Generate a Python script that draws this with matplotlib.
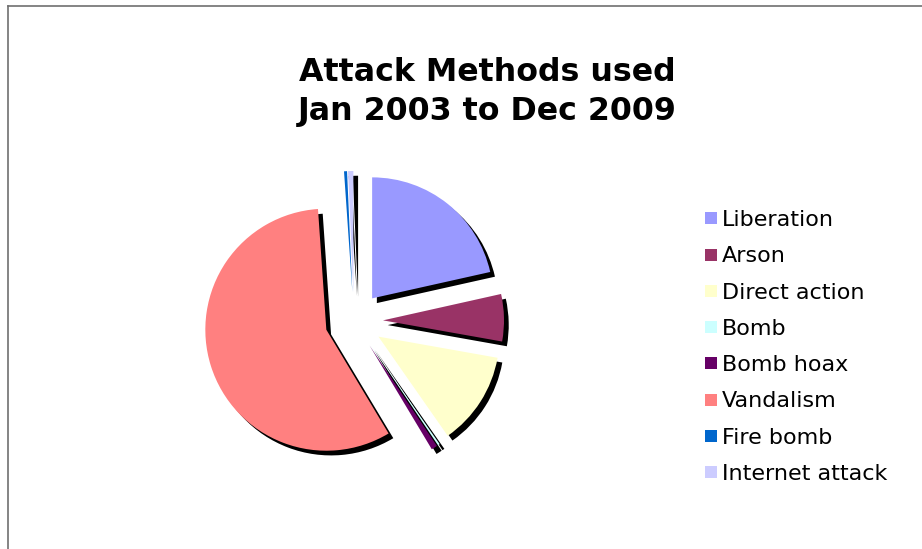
import matplotlib
matplotlib.use("Agg")
import matplotlib.pyplot as plt
import matplotlib.patheffects as pe
from matplotlib.lines import Line2D

# share of attacks, per cent
methods = ["Liberation", "Arson", "Direct action", "Bomb", "Bomb hoax",
           "Vandalism", "Fire bomb", "Internet attack"]
shares = [21.5, 6.3, 12.5, 0.3, 0.8, 57.5, 0.4, 0.7]
colours = ["#9999FF", "#993366", "#FFFFCC", "#CCFFFF", "#660066",
           "#FF8080", "#0066CC", "#CCCCFF"]

W, H = 922, 549
fig = plt.figure(figsize=(W / 100, H / 100), dpi=100)
ax = fig.add_axes([0, 0, 1, 1])

# explode is in data units here (pixels), not a fraction of the radius
wedges, _ = ax.pie(shares, colors=colours, startangle=90, counterclock=False,
                   explode=[29] * len(shares), radius=121, center=(354, H - 321),
                   wedgeprops=dict(linewidth=0))
for w in wedges:
    w.set_path_effects([pe.SimplePatchShadow(offset=(3.4, -3.4), shadow_rgbFace="black", alpha=1.0),
                        pe.Normal()])

ax.set_xlim(0, W)
ax.set_ylim(0, H)
ax.set_aspect("equal")
ax.axis("off")

# thin frame, only top and left show in the crop
ax.plot([8, W], [H - 6, H - 6], color="#707070", lw=1.2)
ax.plot([8, 8], [0, H - 6], color="#707070", lw=1.2)

ax.text(487, H - 92, "Attack Methods used\nJan 2003 to Dec 2009", ha="center", va="center",
        fontsize=22.8, fontweight="bold", family="DejaVu Sans", linespacing=1.3)

handles = [Line2D([], [], marker="s", linestyle="none", markersize=9,
                  markerfacecolor=c, markeredgewidth=0) for c in colours]
ax.legend(handles, methods, loc="center left", bbox_to_anchor=(704 / W, 1 - 347 / H),
          frameon=False, fontsize=16, handlelength=0.6, handletextpad=0.22,
          labelspacing=0.73, borderpad=0, borderaxespad=0)

fig.savefig("out.png", dpi=100)
